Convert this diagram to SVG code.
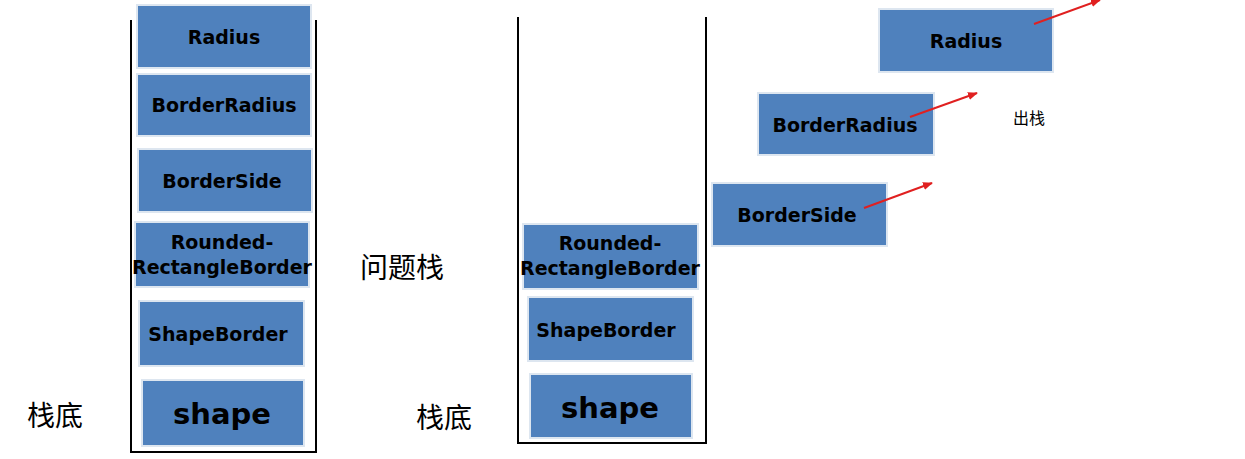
<svg xmlns="http://www.w3.org/2000/svg" width="1245" height="459" viewBox="0 0 1245 459">
<style>
.b{fill:#4f81bd;stroke:#dde6f0;stroke-width:2}
.t{font-family:"DejaVu Sans",sans-serif;font-weight:bold;font-size:19px;fill:#000;text-anchor:middle}
.big{font-size:29px}
.cn{font-family:"Noto Sans CJK SC",sans-serif;fill:#000}
.wall{stroke:#000;stroke-width:2;fill:none}
.ar{stroke:#e02020;stroke-width:2;fill:none;marker-end:url(#ah)}
</style>
<defs><marker id="ah" markerWidth="10" markerHeight="8" refX="9" refY="4" orient="auto" markerUnits="userSpaceOnUse" viewBox="0 0 10 8"><path d="M0,0L10,4L0,8z" fill="#e02020"/></marker></defs>
<rect width="1245" height="459" fill="#fff"/>
<g id="stacks">
<path class="wall" d="M131,20V452H316V20"/>
<path class="wall" d="M518,17V443H706V17"/>
</g>
<g id="l-radius"><rect class="b" x="137" y="5" width="174" height="63"/><text class="t" x="224" y="44">Radius</text></g>
<g id="l-borderradius"><rect class="b" x="137" y="74" width="174" height="62"/><text class="t" x="224" y="112">BorderRadius</text></g>
<g id="l-borderside"><rect class="b" x="138" y="149" width="174" height="63"/><text class="t" x="222" y="188">BorderSide</text></g>
<g id="l-rounded"><rect class="b" x="135" y="222" width="174" height="65"/><text class="t" x="222" y="249">Rounded-</text><text class="t" x="222" y="274">RectangleBorder</text></g>
<g id="l-shapeborder"><rect class="b" x="139" y="301" width="165" height="65"/><text class="t" x="218" y="341">ShapeBorder</text></g>
<g id="l-shape"><rect class="b" x="142" y="380" width="162" height="66"/><text class="t big" x="222" y="424">shape</text></g>
<g id="r-rounded"><rect class="b" x="523" y="224" width="175" height="65"/><text class="t" x="610" y="250">Rounded-</text><text class="t" x="610" y="275">RectangleBorder</text></g>
<g id="r-shapeborder"><rect class="b" x="528" y="297" width="165" height="64"/><text class="t" x="606" y="337">ShapeBorder</text></g>
<g id="r-shape"><rect class="b" x="530" y="374" width="162" height="64"/><text class="t big" x="610" y="418">shape</text></g>
<g id="f-radius"><rect class="b" x="879" y="9" width="174" height="63"/><text class="t" x="966" y="48">Radius</text></g>
<g id="f-borderradius"><rect class="b" x="758" y="93" width="176" height="62"/><text class="t" x="845" y="132">BorderRadius</text></g>
<g id="f-borderside"><rect class="b" x="712" y="183" width="175" height="63"/><text class="t" x="797" y="222">BorderSide</text></g>
<g id="connectors">
<line class="ar" x1="1034" y1="24" x2="1100" y2="0"/>
<line class="ar" x1="910" y1="117" x2="977" y2="93"/>
<line class="ar" x1="864" y1="208" x2="932" y2="183"/>
</g>
<g id="labels">
<text class="cn" x="27" y="426" font-size="28">栈底</text>
<text class="cn" x="360" y="278" font-size="28">问题栈</text>
<text class="cn" x="416" y="428" font-size="28">栈底</text>
<text class="cn" x="1013" y="124" font-size="16">出栈</text>
</g>
</svg>
